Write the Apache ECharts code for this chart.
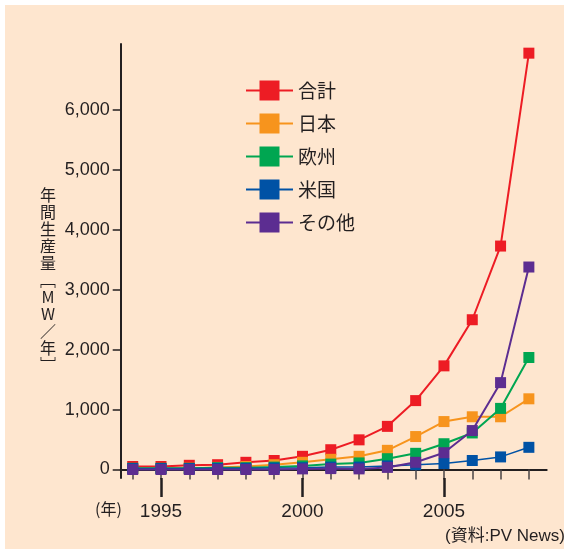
<!DOCTYPE html>
<html>
<head>
<meta charset="utf-8">
<script src="https://cdn.jsdelivr.net/npm/echarts@6/dist/echarts.min.js"></script>
<style>
html,body{margin:0;padding:0;background:#fff;}
#c{width:564px;height:549px;}
</style>
</head>
<body>
<div id="c"></div>
<script>
const years = [1994,1995,1996,1997,1998,1999,2000,2001,2002,2003,2004,2005,2006,2007,2008];
const seriesNames = ['合計','日本','欧州','米国','その他'];
const total  = [50,50,70,80,120,150,220,330,495,720,1150,1730,2500,3730,6950];
const japan  = [15,15,20,35,50,80,120,170,220,320,550,800,880,880,1180];
const europe = [20,20,20,30,30,40,60,90,110,180,270,430,610,1020,1870];
const usa    = [15,15,15,20,20,25,30,40,40,60,80,100,150,210,370];
const other  = [0,0,0,0,0,0,10,15,10,35,120,280,650,1450,3380];
const yTicks = [0,1000,2000,3000,4000,5000,6000];
const xMajor = [1995,2000,2005];
const xMinor = years;

const colors = ['#ed1c24','#f7941d','#00a651','#0052a5','#5c2d91'];
const allData = [total, japan, europe, usa, other];
const ink = '#231f20';
const numFont = 'Liberation Sans';
const jpFont = 'Noto Sans CJK JP';

const chart = echarts.init(document.getElementById('c'));
const xBase = {
  type:'value', min:1993.576, max:2008.63, gridIndex:0, position:'bottom',
  splitLine:{show:false}
};
chart.setOption({
  backgroundColor:'#ffffff',
  animation:false,
  graphic:[
    {type:'rect', z:-10, shape:{x:5,y:5,width:559,height:544}, style:{fill:'#fee6cf'}},
    {type:'text', left:40, top:186, style:{text:'年\n間\n生\n産\n量\n﹇\nM\nW\n／\n年\n﹈', font:'16px "Noto Sans CJK JP"', fill:ink, lineHeight:17, textAlign:'center', width:16}},
    {type:'text', left:95, top:501, style:{text:'(年)', font:'16px "Noto Sans CJK JP"', fill:ink}},
    {type:'text', left:445, top:528, style:{text:'(資料:PV News)', font:'17px "Liberation Sans", "Noto Sans CJK JP"', fill:ink}}
  ],
  grid:{left:120.7, right:17.3, top:44, bottom:71},
  legend:{
    orient:'vertical', left:245, top:80.5, padding:0, itemWidth:47, itemHeight:25, itemGap:13,
    textStyle:{fontFamily:jpFont, fontSize:19, color:ink},
    data:seriesNames
  },
  xAxis:[
    Object.assign({}, xBase, {
      axisLine:{show:true, lineStyle:{color:ink, width:2}},
      axisTick:{show:true, customValues:xMinor, length:10, lineStyle:{color:'#4a4445', width:1.5}},
      axisLabel:{show:false}
    }),
    Object.assign({}, xBase, {
      axisLine:{show:false},
      axisTick:{show:true, customValues:xMajor, length:19, lineStyle:{color:ink, width:2.5}},
      axisLabel:{show:true, customValues:xMajor, margin:24, fontFamily:numFont, fontSize:19, color:ink,
        formatter:v=>String(v)}
    })
  ],
  yAxis:{
    type:'value', min:-142, max:7103,
    axisLine:{show:true, lineStyle:{color:ink, width:2}},
    axisTick:{show:true, customValues:yTicks, length:8, lineStyle:{color:ink, width:1.5}},
    axisLabel:{show:true, customValues:yTicks, margin:11, fontFamily:numFont, fontSize:18, color:ink,
      formatter:v=>v.toLocaleString('en-US')},
    splitLine:{show:false}
  },
  series: seriesNames.map((n,i)=>({
    name:n, type:'line', xAxisIndex:0,
    data: years.map((y,j)=>[y, allData[i][j]]),
    symbol:'rect', symbolSize:11,
    lineStyle:{color:colors[i], width: i===3 ? 1.5 : 2},
    itemStyle:{color:colors[i]},
    z: 2+i
  }))
});
</script>
</body>
</html>
